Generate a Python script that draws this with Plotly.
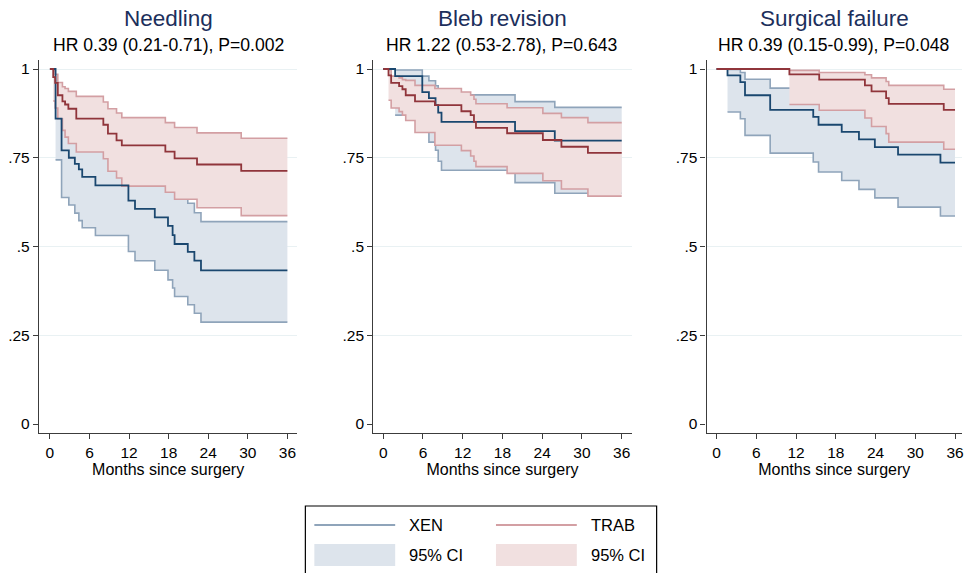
import plotly.graph_objects as go

# ---------------- data ----------------
PANEL_TITLES = ["Needling", "Bleb revision", "Surgical failure"]
PANEL_SUBTITLES = ["HR 0.39 (0.21-0.71), P=0.002",
                   "HR 1.22 (0.53-2.78), P=0.643",
                   "HR 0.39 (0.15-0.99), P=0.048"]
GROUPS = ["XEN", "TRAB"]
X_TICKS = [0, 6, 12, 18, 24, 30, 36]
Y_TICKS = [0, 0.25, 0.5, 0.75, 1]
Y_TICK_TEXT = ["0", ".25", ".5", ".75", "1"]
X_TITLE = "Months since surgery"
FOLLOW_UP_END = 36

# Needling - XEN
NEED_XEN_T = [0.86, 1.77, 2.87, 3.78, 4.39, 4.9, 6.9, 11.9, 12.9, 15.9, 17.9, 18.6, 18.9, 20.9, 21.9, 22.9]
NEED_XEN_S = [0.86, 0.771, 0.75, 0.733, 0.717, 0.696, 0.672, 0.629, 0.606, 0.582, 0.558, 0.532, 0.507, 0.485, 0.46, 0.433]
NEED_XEN_LO = [0.744, 0.638, 0.617, 0.594, 0.573, 0.553, 0.531, 0.486, 0.46, 0.433, 0.406, 0.383, 0.359, 0.336, 0.312, 0.287]
NEED_XEN_HI = [0.95, 0.89, 0.875, 0.86, 0.85, 0.83, 0.81, 0.775, 0.755, 0.735, 0.71, 0.69, 0.665, 0.622, 0.595, 0.57]
# Needling - TRAB
NEED_TRAB_T = [0.5, 0.8, 1.2, 1.9, 2.3, 2.8, 4.0, 8.1, 8.8, 10.1, 10.9, 17.5, 18.9, 22.3, 29.0]
NEED_TRAB_S = [0.977, 0.961, 0.926, 0.909, 0.90, 0.888, 0.86, 0.843, 0.818, 0.799, 0.785, 0.767, 0.748, 0.731, 0.713]
NEED_TRAB_LO = [0.91, 0.89, 0.86, 0.827, 0.808, 0.79, 0.766, 0.747, 0.712, 0.693, 0.67, 0.653, 0.633, 0.609, 0.587]
NEED_TRAB_HI = [0.995, 0.985, 0.962, 0.95, 0.945, 0.937, 0.923, 0.907, 0.888, 0.876, 0.863, 0.849, 0.835, 0.82, 0.805]

# Bleb revision - XEN
BLEB_XEN_T = [1.8, 5.9, 6.9, 7.9, 8.3, 8.8, 19.9, 25.9]
BLEB_XEN_S = [0.98, 0.935, 0.918, 0.898, 0.877, 0.851, 0.825, 0.798]
BLEB_XEN_LO = [0.87, 0.83, 0.794, 0.771, 0.74, 0.715, 0.68, 0.65]
BLEB_XEN_HI = [0.997, 0.98, 0.967, 0.953, 0.94, 0.927, 0.908, 0.892]
# Bleb revision - TRAB
BLEB_TRAB_T = [0.8, 1.2, 2.4, 2.9, 3.4, 4.8, 7.8, 11.8, 13.2, 13.7, 14.0, 18.7, 24.1, 26.9, 30.9]
BLEB_TRAB_S = [0.982, 0.961, 0.952, 0.943, 0.926, 0.909, 0.898, 0.881, 0.87, 0.851, 0.834, 0.819, 0.80, 0.781, 0.764]
BLEB_TRAB_LO = [0.912, 0.89, 0.88, 0.87, 0.855, 0.821, 0.785, 0.77, 0.755, 0.74, 0.725, 0.706, 0.685, 0.662, 0.642]
BLEB_TRAB_HI = [0.998, 0.98, 0.975, 0.97, 0.968, 0.954, 0.945, 0.935, 0.926, 0.915, 0.902, 0.891, 0.875, 0.863, 0.849]

# Surgical failure - XEN
FAIL_XEN_T = [1.66, 3.6, 4.3, 8.1, 14.6, 15.4, 18.9, 21.5, 23.9, 27.4, 33.8]
FAIL_XEN_S = [0.982, 0.963, 0.926, 0.885, 0.865, 0.843, 0.823, 0.802, 0.78, 0.759, 0.736]
FAIL_XEN_LO = [0.879, 0.86, 0.813, 0.763, 0.738, 0.71, 0.686, 0.661, 0.637, 0.611, 0.586]
FAIL_XEN_HI = [0.999, 0.99, 0.971, 0.946, 0.935, 0.92, 0.905, 0.89, 0.875, 0.858, 0.84]
# Surgical failure - TRAB
FAIL_TRAB_T = [11.0, 15.5, 22.4, 23.4, 25.6, 26.0, 34.3]
FAIL_TRAB_S = [0.985, 0.97, 0.954, 0.937, 0.918, 0.902, 0.885]
FAIL_TRAB_LO = [0.90, 0.884, 0.862, 0.838, 0.818, 0.794, 0.774]
FAIL_TRAB_HI = [0.996, 0.99, 0.984, 0.975, 0.965, 0.954, 0.943]

# ---------------- styling ----------------
W, H = 964, 573
FONT = "Liberation Sans, Arial, sans-serif"
EST_COL = {"XEN": "#1a476f", "TRAB": "#90353b"}
EDGE_COL = {"XEN": "#8fa4ba", "TRAB": "#d39fa3"}
FILL_COL = {"XEN": "#dde4ec", "TRAB": "#f1e0e0"}
AXIS_COL = "#3c3c3c"
GRID_COL = "#e9f1f3"

# plot-area pixel geometry
PANEL_PX = [(39, 298), (374, 633), (708, 964)]
ZERO_PX = [50, 384, 718]
SCALE_PX = [(288 - 50) / 36, (623 - 384) / 36, (957 - 718) / 36]
PLOT_TOP, PLOT_BOT = 60, 433
Y1_PX, Y0_PX = 69, 424

panels = [
    {"XEN": (NEED_XEN_T, NEED_XEN_S, NEED_XEN_LO, NEED_XEN_HI),
     "TRAB": (NEED_TRAB_T, NEED_TRAB_S, NEED_TRAB_LO, NEED_TRAB_HI)},
    {"XEN": (BLEB_XEN_T, BLEB_XEN_S, BLEB_XEN_LO, BLEB_XEN_HI),
     "TRAB": (BLEB_TRAB_T, BLEB_TRAB_S, BLEB_TRAB_LO, BLEB_TRAB_HI)},
    {"XEN": (FAIL_XEN_T, FAIL_XEN_S, FAIL_XEN_LO, FAIL_XEN_HI),
     "TRAB": (FAIL_TRAB_T, FAIL_TRAB_S, FAIL_TRAB_LO, FAIL_TRAB_HI)},
]

fig = go.Figure()

for i, pdata in enumerate(panels):
    ax = "" if i == 0 else str(i + 1)
    xref, yref = "x" + ax, "y" + ax
    # confidence bands first
    for g in GROUPS:
        t, s, lo, hi = pdata[g]
        bx = list(t) + [FOLLOW_UP_END]
        fig.add_trace(go.Scatter(
            x=bx, y=list(lo) + [lo[-1]], mode="lines", line_shape="hv",
            line=dict(color=EDGE_COL[g], width=1.6), xaxis=xref, yaxis=yref,
            showlegend=False, hoverinfo="skip"))
        fig.add_trace(go.Scatter(
            x=bx, y=list(hi) + [hi[-1]], mode="lines", line_shape="hv",
            line=dict(color=EDGE_COL[g], width=1.6), fill="tonexty",
            fillcolor=FILL_COL[g], xaxis=xref, yaxis=yref,
            showlegend=False, hoverinfo="skip"))
    # survival estimates on top
    for g in GROUPS:
        t, s, lo, hi = pdata[g]
        fig.add_trace(go.Scatter(
            x=[0] + list(t) + [FOLLOW_UP_END], y=[1] + list(s) + [s[-1]],
            mode="lines", line_shape="hv",
            line=dict(color=EST_COL[g], width=1.8), xaxis=xref, yaxis=yref,
            showlegend=False, name=g))

layout = dict(
    width=W, height=H, margin=dict(l=0, r=0, t=0, b=0),
    paper_bgcolor="white", plot_bgcolor="white",
    font=dict(family=FONT, color="black", size=15),
    showlegend=False,
)

ydom = [1 - PLOT_BOT / H, 1 - PLOT_TOP / H]
yr = [-(PLOT_BOT - Y0_PX) / (Y0_PX - Y1_PX), 1 + (Y1_PX - PLOT_TOP) / (Y0_PX - Y1_PX)]

annotations = []
for i in range(3):
    ax = "" if i == 0 else str(i + 1)
    left, right = PANEL_PX[i]
    z, sc = ZERO_PX[i], SCALE_PX[i]
    xr = [-(z - left) / sc, (right - z) / sc]
    layout["xaxis" + ax] = dict(
        domain=[left / W, min(right / W, 1.0)], range=xr, anchor="y" + ax,
        tickvals=X_TICKS, ticktext=[str(v) for v in X_TICKS],
        ticks="outside", ticklen=5, tickwidth=1.2, tickcolor=AXIS_COL,
        showline=True, linecolor=AXIS_COL, linewidth=1.2,
        showgrid=False, zeroline=False, tickfont=dict(size=15.5),
        ticklabeloverflow="allow",
        title=dict(text=X_TITLE, font=dict(size=16), standoff=2),
        fixedrange=True,
    )
    layout["yaxis" + ax] = dict(
        domain=ydom, range=yr, anchor="x" + ax,
        tickvals=Y_TICKS, ticktext=Y_TICK_TEXT,
        ticks="outside", ticklen=5, tickwidth=1.2, tickcolor=AXIS_COL,
        showline=True, linecolor=AXIS_COL, linewidth=1.2,
        showgrid=False, zeroline=False, tickfont=dict(size=15.5),
        minor=dict(tickmode="array", tickvals=Y_TICKS[1:], showgrid=True,
                   gridcolor=GRID_COL, gridwidth=1.2, ticks=""),
        fixedrange=True,
    )
    cx = (left + right) / 2 / W
    annotations.append(dict(text=PANEL_TITLES[i], x=cx, y=1 - 18 / H,
                            xref="paper", yref="paper", showarrow=False,
                            xanchor="center", yanchor="middle",
                            font=dict(size=22.5, color="#1c2f5c")))
    annotations.append(dict(text=PANEL_SUBTITLES[i], x=cx, y=1 - 44.5 / H,
                            xref="paper", yref="paper", showarrow=False,
                            xanchor="center", yanchor="middle",
                            font=dict(size=17.6, color="black")))

# legend drawn manually (2 x 2 grid as in the reference)
shapes = []
BOX = (306, 506, 658, 590)
shapes.append(dict(type="rect", xref="paper", yref="paper",
                   x0=BOX[0] / W, x1=BOX[2] / W, y0=1 - BOX[3] / H, y1=1 - BOX[1] / H,
                   line=dict(color="black", width=1.2), fillcolor="white", layer="above"))
LEG_COLS = [(315, 396, 408), (497, 578, 590)]
for (x0, x1, tx), g in zip(LEG_COLS, GROUPS):
    shapes.append(dict(type="line", xref="paper", yref="paper",
                       x0=x0 / W, x1=x1 / W, y0=1 - 525 / H, y1=1 - 525 / H,
                       line=dict(color=EDGE_COL[g], width=2), layer="above"))
    shapes.append(dict(type="rect", xref="paper", yref="paper",
                       x0=x0 / W, x1=x1 / W, y0=1 - 566 / H, y1=1 - 544 / H,
                       line=dict(width=0), fillcolor=FILL_COL[g], layer="above"))
    annotations.append(dict(text=g, x=tx / W, y=1 - 525 / H, xref="paper", yref="paper",
                            showarrow=False, xanchor="left", yanchor="middle",
                            font=dict(size=16.5, color="black")))
    annotations.append(dict(text="95% CI", x=tx / W, y=1 - 555 / H, xref="paper", yref="paper",
                            showarrow=False, xanchor="left", yanchor="middle",
                            font=dict(size=16.5, color="black")))

layout["annotations"] = annotations
layout["shapes"] = shapes
fig.update_layout(**layout)

fig.write_html("out.html", config={"displayModeBar": False},
               post_script="document.body.style.margin='0px';document.body.style.padding='0px';")
